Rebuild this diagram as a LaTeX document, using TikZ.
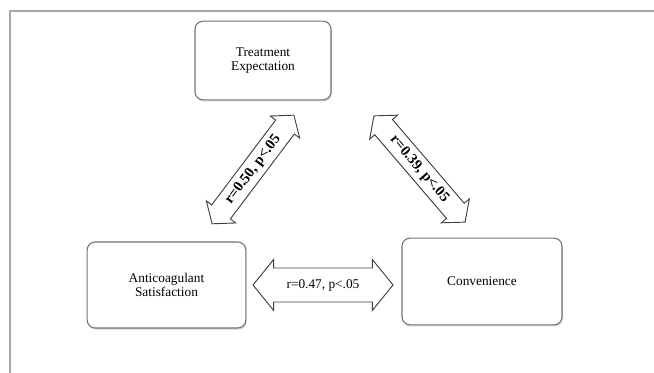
\documentclass[tikz,border=0pt]{standalone}
\usepackage{fontspec}
\setmainfont{Liberation Serif}
\usetikzlibrary{shapes.arrows,shadows}

\begin{document}
\begin{tikzpicture}[x=0.75pt,y=0.75pt,
    font=\fontsize{10}{10.5}\selectfont,
    factorbox/.style={draw=black!55, line width=0.8pt, rounded corners=6pt, fill=white,
      align=center, drop shadow={shadow xshift=0.6pt, shadow yshift=-1.2pt, opacity=0.35}},
    corrarrow/.style={double arrow, draw=black!75, line width=0.7pt, fill=white,
      double arrow tip angle=102, text height=7pt, text depth=2pt, inner xsep=2pt},
    diagarrow/.style={corrarrow, font=\fontsize{11}{11}\selectfont\bfseries,
      text height=7.6pt, text depth=2.2pt, inner ysep=3.5pt, double arrow head extend=5pt}]
    \useasboundingbox (0,0) rectangle (654,373);
    \draw[black!35, line width=1.5pt] (654,362) -- (10,362) -- (10,0);
    \node[factorbox, minimum width=102pt, minimum height=59pt] (te) at (263,312.5) {Treatment\\Expectation};
    \node[factorbox, minimum width=119pt, minimum height=64.5pt] (as) at (166.5,88) {Anticoagulant\\Satisfaction};
    \node[factorbox, minimum width=120pt, minimum height=65pt] (cv) at (482,91.5) {Convenience};
    \node[corrarrow, minimum height=105pt, inner ysep=7.9pt, double arrow head extend=6.4pt] (as-cv) at (323,88) {r=0.47, p<.05};
    \node[diagarrow, minimum height=102pt, rotate=53] (as-te) at (253,203.5) {r=0.50, p<.05};
    \node[diagarrow, minimum height=105pt, rotate=-49.4] (te-cv) at (419.5,204) {r=0.39, p<.05};
\end{tikzpicture}
\end{document}
